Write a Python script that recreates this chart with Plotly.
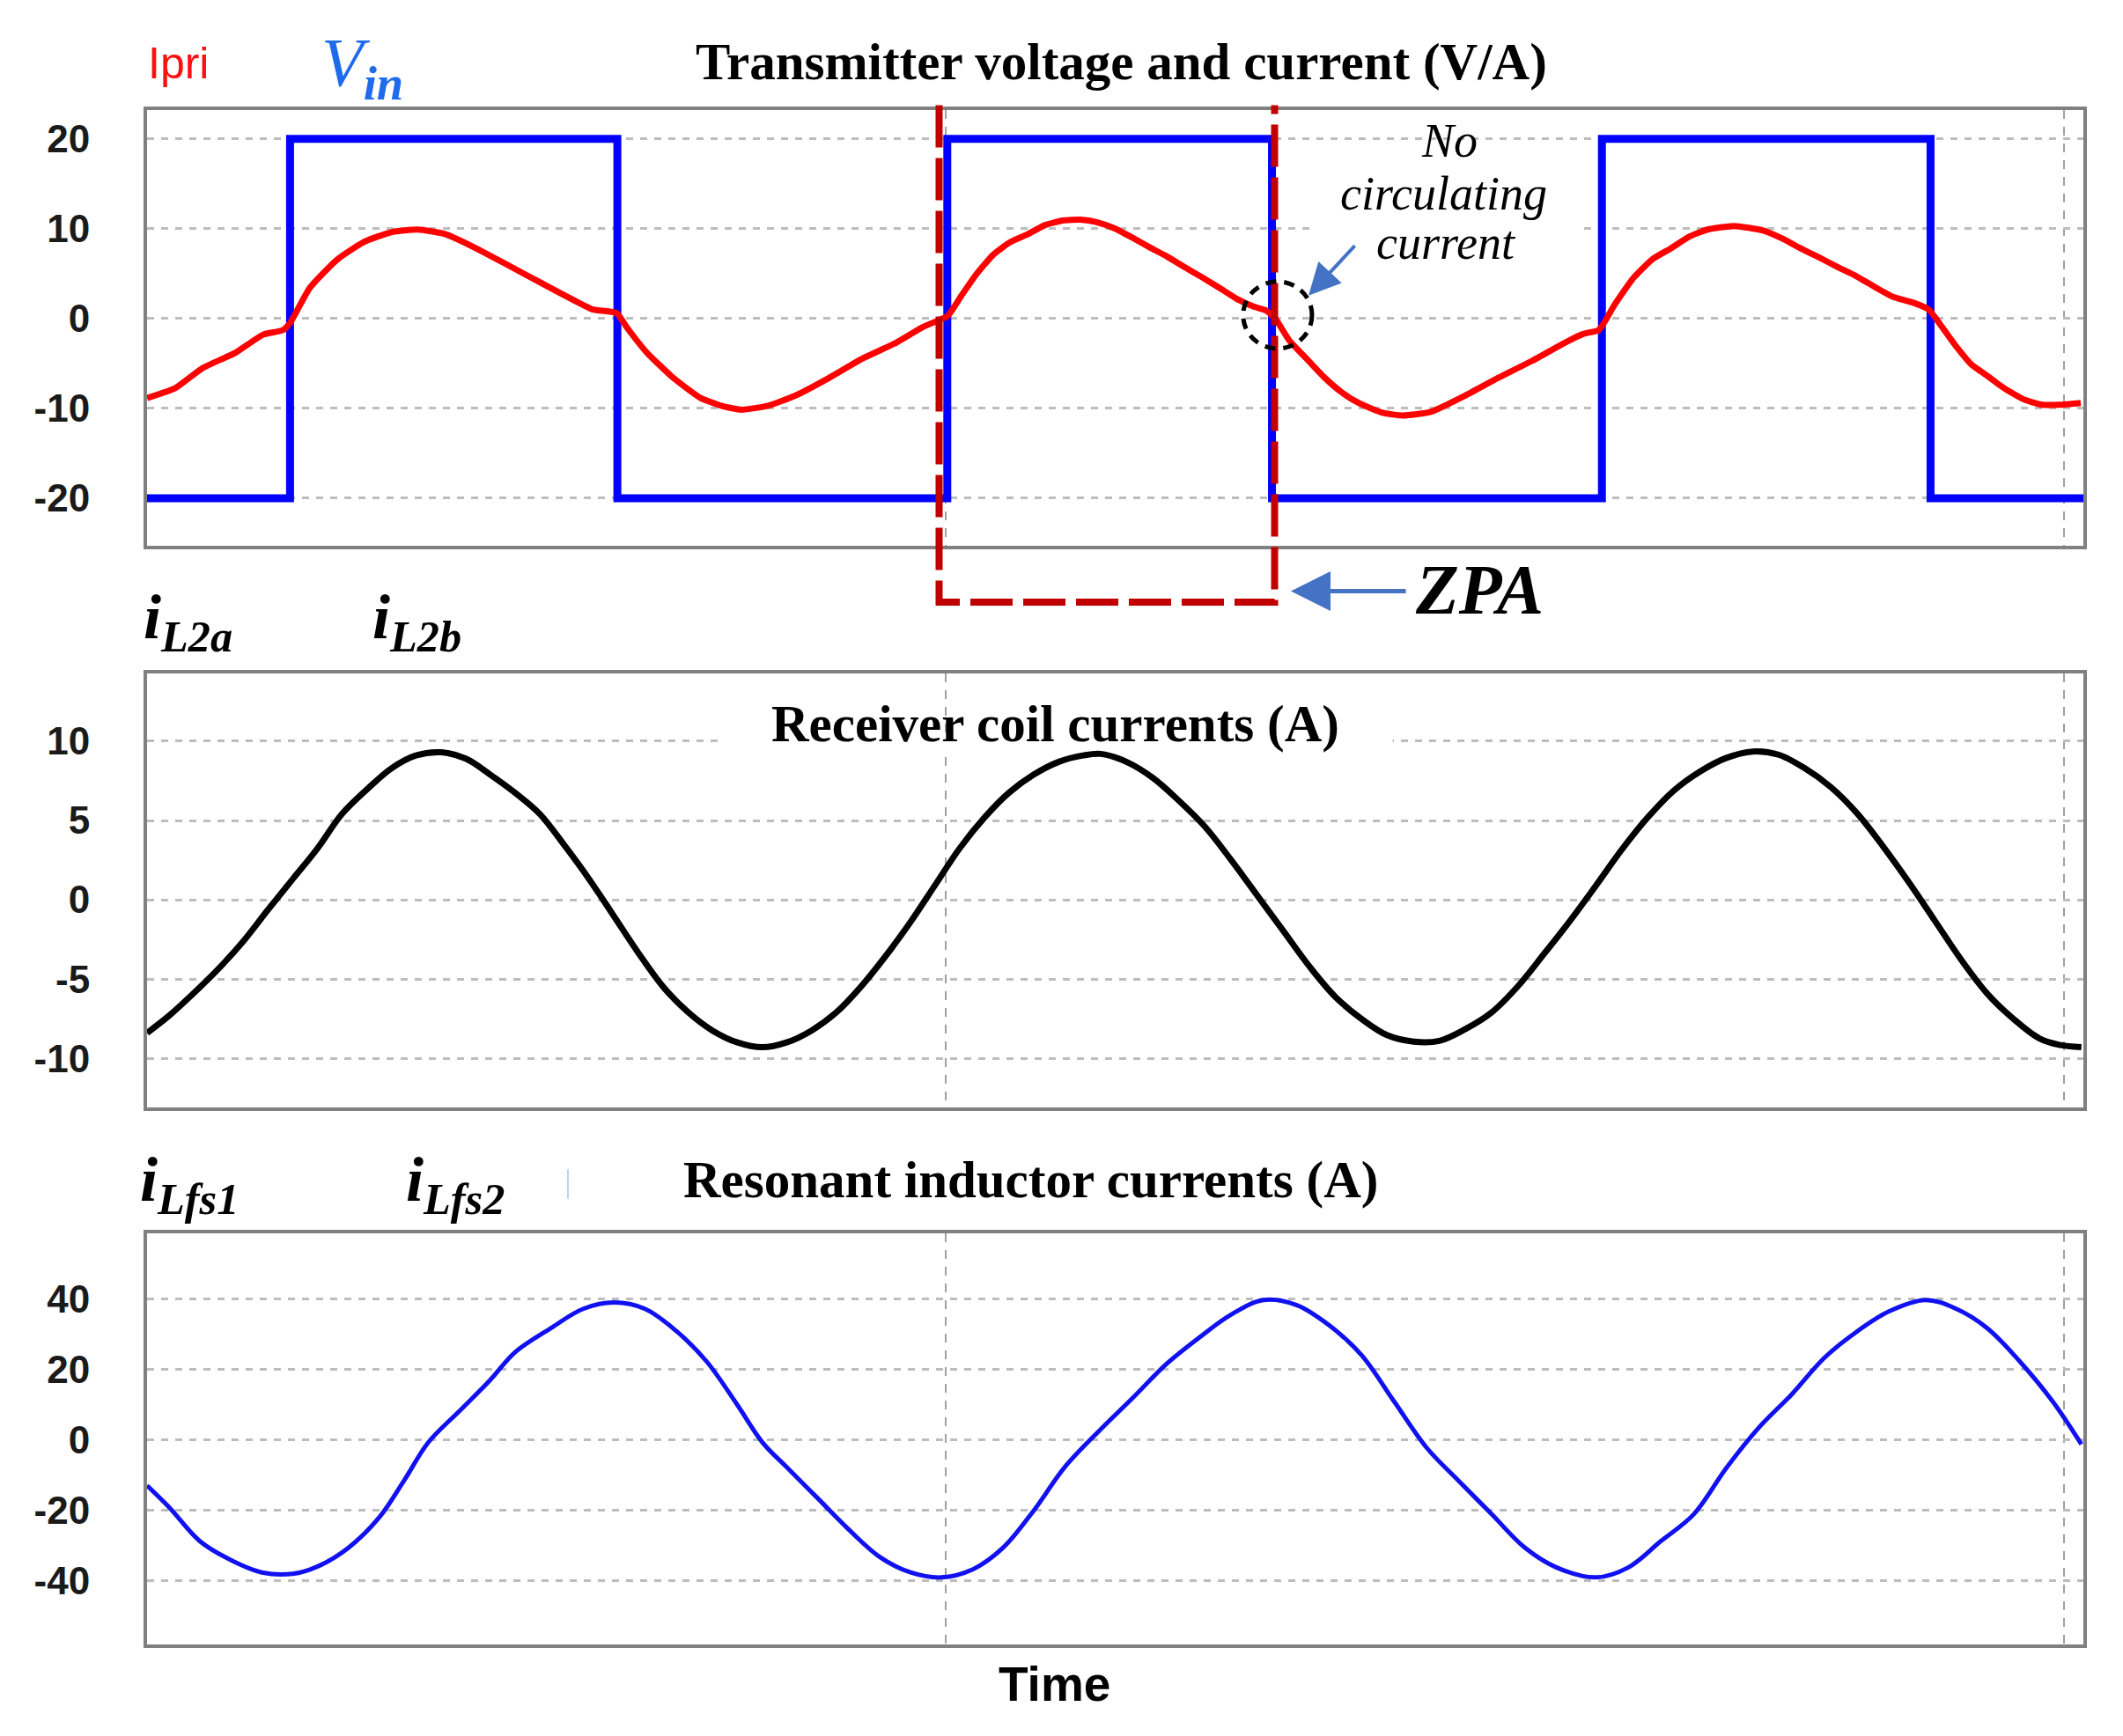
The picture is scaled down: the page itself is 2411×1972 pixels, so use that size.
import plotly.graph_objects as go

W, H = 2411, 1972

# ---------------- data (time in µs, 10 µs switching period) ----------------
vin_t = [0, 2.18, 2.18, 7.17, 7.17, 12.20, 12.20, 17.15, 17.15, 22.18, 22.18, 27.19, 27.19, 29.52]
vin_v = [-20, -20, 20, 20, -20, -20, 20, 20, -20, -20, 20, 20, -20, -20]

ipri_t = [0.00, 0.43, 0.84, 1.35, 1.77, 2.07, 2.18, 2.48, 2.89, 3.30, 3.72, 4.13, 4.54, 4.95,
          5.46, 5.97, 6.49, 6.80, 7.16, 7.31, 7.62, 8.03, 8.44, 8.75, 9.06, 9.47, 9.88, 10.39,
          10.91, 11.42, 11.83, 12.07, 12.21, 12.42, 12.63, 12.90, 13.16, 13.43, 13.69, 13.96,
          14.23, 14.49, 14.76, 15.02, 15.29, 15.55, 15.82, 16.08, 16.35, 16.61, 16.88, 17.06,
          17.20, 17.41, 17.68, 17.94, 18.21, 18.47, 18.84, 19.15, 19.57, 20.09, 20.60, 21.12,
          21.64, 21.90, 22.13, 22.21, 22.38, 22.66, 22.95, 23.23, 23.51, 23.79, 24.19, 24.64,
          24.93, 25.21, 25.49, 25.78, 26.06, 26.34, 26.62, 26.91, 27.16, 27.36, 27.59, 27.81,
          28.04, 28.32, 28.61, 28.89, 29.17, 29.48]
ipri_v = [-8.85, -7.75, -5.55, -3.8, -1.8, -1.3, -0.5, 3.4, 6.5, 8.5, 9.6, 9.9, 9.4, 8.05,
          6.1, 4.1, 2.1, 1.0, 0.6, -0.95, -3.8, -6.65, -8.85, -9.7, -10.15, -9.7, -8.6, -6.65,
          -4.45, -2.7, -0.95, -0.2, 0.3, 2.6, 4.8, 7.1, 8.5, 9.4, 10.4, 10.9,
          11.0, 10.7, 10.0, 9.0, 7.9, 6.9, 5.7, 4.6, 3.4, 2.2, 1.3, 0.9,
          0.0, -2.4, -4.5, -6.5, -8.2, -9.4, -10.5, -10.8, -10.4, -8.6, -6.6, -4.7,
          -2.6, -1.7, -1.3, -0.5, 1.6, 4.5, 6.6, 7.8, 9.1, 9.9, 10.3, 9.8,
          8.9, 7.8, 6.8, 5.7, 4.7, 3.5, 2.4, 1.8, 1.0, -0.9, -3.2, -5.1,
          -6.3, -7.8, -9.0, -9.6, -9.6, -9.4]

il2_t = [0.00, 0.34, 0.71, 1.09, 1.47, 1.84, 2.22, 2.60, 2.97, 3.35, 3.73, 4.10, 4.48, 4.86,
         5.23, 5.61, 5.99, 6.36, 6.74, 7.12, 7.49, 7.87, 8.25, 8.62, 9.00, 9.38, 9.75, 10.13,
         10.51, 10.88, 11.26, 11.64, 12.01, 12.39, 12.77, 13.14, 13.52, 13.90, 14.27, 14.54,
         14.93, 15.33, 15.73, 16.13, 16.52, 16.92, 17.32, 17.72, 18.11, 18.51, 18.91, 19.31,
         19.70, 20.10, 20.50, 20.90, 21.30, 21.69, 22.09, 22.49, 22.88, 23.28, 23.68, 24.08,
         24.48, 24.87, 25.27, 25.67, 26.07, 26.46, 26.86, 27.26, 27.66, 28.05, 28.45, 28.85,
         29.15, 29.49]
il2_v = [-8.4, -7.3, -5.9, -4.35, -2.6, -0.65, 1.3, 3.25, 5.4, 6.95, 8.3, 9.1, 9.3, 8.9,
         7.9, 6.75, 5.4, 3.45, 1.3, -1.05, -3.35, -5.5, -7.1, -8.25, -9.0, -9.3, -9.0, -8.25,
         -7.1, -5.5, -3.55, -1.4, 0.9, 3.25, 5.2, 6.75, 7.9, 8.7, 9.1, 9.2,
         8.7, 7.7, 6.25, 4.6, 2.55, 0.3, -1.95, -4.2, -6.1, -7.5, -8.55, -8.95,
         -8.9, -8.15, -7.1, -5.45, -3.4, -1.35, 0.9, 3.2, 5.2, 6.9, 8.1, 8.95,
         9.35, 9.15, 8.3, 7.1, 5.45, 3.4, 1.1, -1.35, -3.8, -5.9, -7.5, -8.75,
         -9.15, -9.3]

ilfs_t = [0.00, 0.34, 0.81, 1.28, 1.75, 2.22, 2.60, 3.07, 3.54, 3.92, 4.29, 4.76, 5.23, 5.61,
          6.17, 6.65, 7.12, 7.59, 8.06, 8.53, 9.00, 9.38, 9.75, 10.22, 10.69, 11.17, 11.64,
          12.11, 12.58, 13.05, 13.52, 13.99, 14.54, 15.03, 15.53, 16.03, 16.52, 17.02, 17.52,
          18.01, 18.51, 19.01, 19.51, 20.00, 20.50, 21.00, 21.49, 22.09, 22.58, 23.08, 23.58,
          24.08, 24.57, 25.07, 25.57, 26.07, 26.56, 27.11, 27.56, 28.05, 28.55, 29.05, 29.49]
ilfs_v = [-13.0, -19.2, -28.8, -34.1, -37.6, -38.0, -35.9, -30.6, -22.0, -11.5, -0.7, 8.1, 16.9, 24.8,
          31.8, 37.1, 38.9, 37.1, 30.95, 22.2, 9.85, -0.7, -7.75, -16.5, -25.3, -33.2, -37.6,
          -39.0, -36.8, -30.6, -20.0, -7.75, 3.0, 11.9, 21.3, 28.8, 35.4, 39.6, 38.2,
          32.6, 24.1, 10.9, -2.3, -11.7, -21.1, -30.5, -36.2, -39.0, -36.2, -28.7, -21.1,
          -7.9, 3.4, 12.8, 23.2, 30.7, 36.4, 39.6, 37.3, 31.7, 22.2, 10.9, -1.3]

t_range = [0, 29.52]
vgrid_t = [12.18, 29.23]

y1_ticks = [-20, -10, 0, 10, 20]
y1_text = ["-20", "-10", "0", "10", "20"]
y2_ticks = [-10, -5, 0, 5, 10]
y2_text = ["-10", "-5", "0", "5", "10"]
y3_ticks = [-40, -20, 0, 20, 40]
y3_text = ["-40", "-20", "0", "20", "40"]

y1_range = [-25.3, 23.2]
y2_range = [-13.1, 14.3]
y3_range = [-58.0, 58.5]

zpa_t = [12.075, 17.19]   # ZPA half-cycle marker

# ---------------- figure ----------------
def px(x):
    return x / W


def py(y):
    return 1 - y / H


xdom = [px(167), px(2366)]
doms = [[py(620), py(125)], [py(1258), py(764.5)], [py(1868), py(1401)]]

fig = go.Figure()
fig.add_trace(go.Scatter(x=vin_t, y=vin_v, mode="lines", line=dict(color="#0000FF", width=9),
                         xaxis="x", yaxis="y", showlegend=False))
fig.add_trace(go.Scatter(x=ipri_t, y=ipri_v, mode="lines",
                         line=dict(color="#FF0000", width=7, shape="spline", smoothing=0.5),
                         xaxis="x", yaxis="y", showlegend=False))
fig.add_trace(go.Scatter(x=il2_t, y=il2_v, mode="lines",
                         line=dict(color="#000000", width=7, shape="spline", smoothing=1.0),
                         xaxis="x2", yaxis="y2", showlegend=False))
fig.add_trace(go.Scatter(x=ilfs_t, y=ilfs_v, mode="lines",
                         line=dict(color="#1010F0", width=5, shape="spline", smoothing=1.0),
                         xaxis="x3", yaxis="y3", showlegend=False))

tickfont = dict(family="Liberation Sans, Arial", size=44, color="#1a1a1a", weight="bold")
frame = dict(showline=True, mirror=True, linecolor="#808080", linewidth=4, zeroline=False)

layout = dict(width=W, height=H, margin=dict(l=0, r=0, t=0, b=0),
              paper_bgcolor="white", plot_bgcolor="white", showlegend=False)
yt = [(y1_range, y1_ticks, y1_text), (y2_range, y2_ticks, y2_text), (y3_range, y3_ticks, y3_text)]
for i in range(3):
    n = "" if i == 0 else str(i + 1)
    layout["xaxis" + n] = dict(domain=xdom, range=t_range, anchor="y" + n, tickvals=vgrid_t,
                               showticklabels=False, ticks="", showgrid=True,
                               gridcolor="#A0A0A0", gridwidth=2, griddash="10px,9px", **frame)
    yr, tv, tt = yt[i]
    layout["yaxis" + n] = dict(domain=doms[i], range=yr, anchor="x" + n, tickvals=tv, ticktext=tt,
                               tickfont=tickfont, ticks="", ticklabelstandoff=52, showgrid=True,
                               gridcolor="#BDBDBD", gridwidth=3, griddash="8px,8px", **frame)
fig.update_layout(**layout)

serif = "Liberation Serif, Times New Roman, serif"
sans = "Liberation Sans, Arial, sans-serif"


def text(x, y, s, size, color="black", family=serif, xanchor="center", yanchor="middle"):
    fig.add_annotation(x=px(x), y=py(y), xref="paper", yref="paper", text=s, showarrow=False,
                       font=dict(family=family, size=size, color=color),
                       xanchor=xanchor, yanchor=yanchor)


# white masks breaking the dotted grid lines under the texts
fig.add_shape(type="rect", xref="x2", yref="y2", x0=8.75, x1=18.99, y0=9.5, y1=10.5,
              fillcolor="white", line=dict(width=0), layer="between")
fig.add_shape(type="rect", xref="x", yref="y", x0=17.79, x1=21.81, y0=9.4, y1=10.6,
              fillcolor="white", line=dict(width=0), layer="between")

# ZPA dashed box
fig.add_shape(type="path", xref="x", yref="paper",
              path=f"M {zpa_t[0]},{py(119.5)} L {zpa_t[0]},{py(684)} L {zpa_t[1]},{py(684)} L {zpa_t[1]},{py(119.5)}",
              line=dict(color="#C00000", width=8, dash="48px,12px"), layer="above")
# dashed circle
fig.add_shape(type="circle", xref="x", yref="y", x0=16.71, x1=17.76, y0=-3.35, y1=4.11,
              line=dict(color="black", width=5, dash="12px,9px"), layer="above")
# faint blue mark
fig.add_shape(type="line", xref="paper", yref="paper", x0=px(645), x1=px(645), y0=py(1328), y1=py(1362),
              line=dict(color="#B8D4F4", width=2))

# arrows
fig.add_annotation(x=px(1466), y=py(671.5), xref="paper", yref="paper", ax=132, ay=0, text="",
                   showarrow=True, arrowhead=2, arrowsize=1.8, arrowwidth=5, arrowcolor="#4472C4")
fig.add_annotation(x=px(1486), y=py(335.7), xref="paper", yref="paper", ax=54, ay=-58, text="",
                   showarrow=True, arrowhead=2, arrowsize=1.8, arrowwidth=4, arrowcolor="#4472C4")

# texts
text(202, 72, "Ipri", 50, color="#FF1010", family=sans)
text(363, 76, "<i>V</i><sub><b><i>in</i></b></sub>", 78, color="#1E6BEB", xanchor="left")
text(1273, 70, "<b>Transmitter voltage and current (V/A)</b>", 59)
text(1646, 160, "<i>No</i>", 54)
text(1640, 220, "<i>circulating</i>", 54)
text(1642, 276, "<i>current</i>", 54)
text(1680, 670, "<b><i>ZPA</i></b>", 80)
text(161, 706, "<b><i>i</i></b><sub><b><i>L2a</i></b></sub>", 72, xanchor="left")
text(421, 706, "<b><i>i</i></b><sub><b><i>L2b</i></b></sub>", 72, xanchor="left")
text(1198, 822, "<b>Receiver coil currents (A)</b>", 59)
text(157, 1345, "<b><i>i</i></b><sub><b><i>Lfs1</i></b></sub>", 72, xanchor="left")
text(459, 1345, "<b><i>i</i></b><sub><b><i>Lfs2</i></b></sub>", 72, xanchor="left")
text(1170, 1340, "<b>Resonant inductor currents (A)</b>", 59)
text(1197, 1913, "<b>Time</b>", 55, family=sans)

fig.write_html("out.html", config={"displayModeBar": False})
with open("out.html", "r", encoding="utf-8") as f:
    html = f.read()
html = html.replace("<body>", '<body style="margin:0;padding:0;overflow:hidden">', 1)
with open("out.html", "w", encoding="utf-8") as f:
    f.write(html)
